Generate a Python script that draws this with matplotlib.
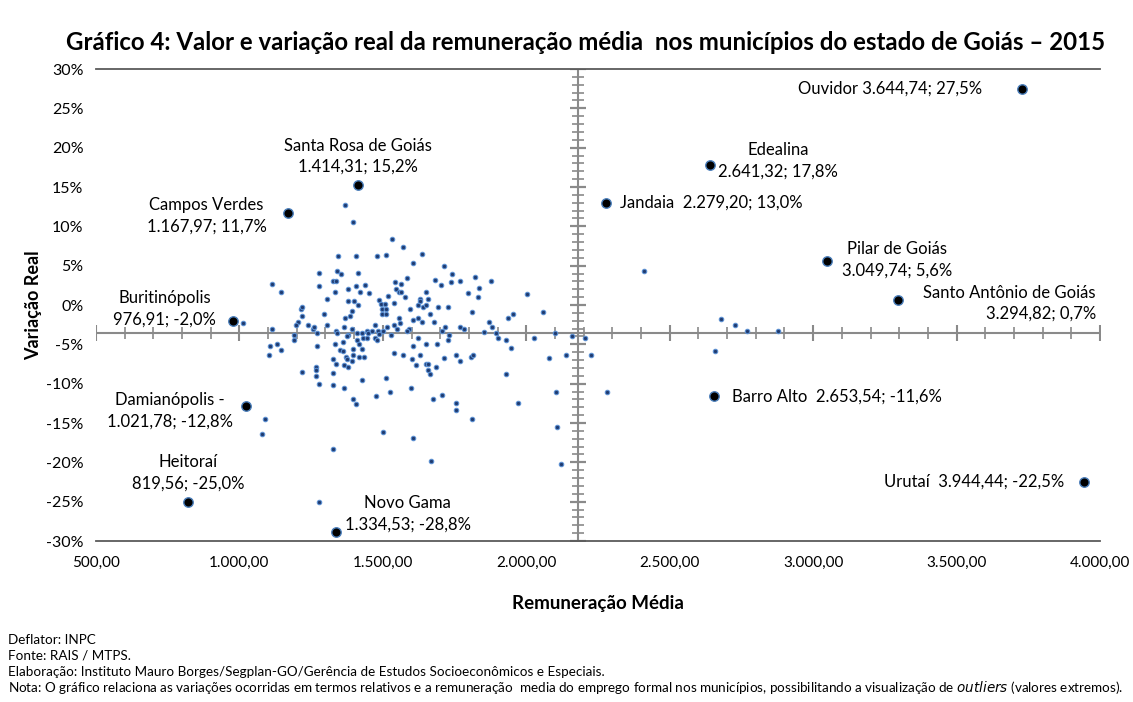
import matplotlib
matplotlib.use('Agg')
import matplotlib.pyplot as plt
import numpy as np

plt.rcParams['font.family'] = ['Lato', 'DejaVu Sans']

# remuneração média (R$) e variação real (%) dos demais municípios
rem = [1011, 1115, 1144, 1112, 1214, 1219, 1219, 1205, 1199, 1238, 1256, 1261, 1271, 1190,
       1190, 1106, 1130, 1144, 1103, 1088, 1078, 1219, 1266, 1266, 1266, 1279, 1328, 1279,
       1369, 1397, 1533, 1570, 1637, 1345, 1406, 1481, 1510, 1604, 1279, 1340, 1355, 1412,
       1327, 1337, 1279, 1332, 1378, 1406, 1439, 1453, 1420, 1542, 1565, 1584, 1547, 1556,
       1565, 1576, 1519, 1487, 1307, 1378, 1401, 1415, 1392, 1387, 1369, 1495, 1507, 1498,
       1510, 1496, 1510, 1539, 1628, 1628, 1656, 1651, 1640, 1651, 1622, 1594, 1665, 1622,
       1637, 1677, 1691, 1683, 1294, 1307, 1365, 1392, 1337, 1341, 1378, 1411, 1426, 1444,
       1449, 1463, 1472, 1484, 1501, 1515, 1538, 1548, 1559, 1528, 1590, 1585, 1557, 1604,
       1375, 1430, 1444, 1472, 1478, 1487, 1623, 1271, 1332, 1360, 1411, 1417, 1397, 1426,
       1349, 1360, 1397, 1373, 1375, 1417, 1435, 1392, 1327, 1337, 1365, 1378, 1604, 1651,
       1688, 1539, 1571, 1628, 1600, 1614, 1651, 1657, 1687, 1656, 1665, 1327, 1327, 1365,
       1426, 1510, 1525, 1476, 1599, 1675, 1397, 1406, 1501, 1604, 1669,
       1712, 1740, 1702, 1736, 1768, 1820, 1876, 1834, 1796, 1830, 2003, 1726, 1810, 2059,
       1937, 1952, 1871, 1882, 1716, 1707, 1768, 1782, 1853, 1895, 1732, 2101, 2159,
       1727, 1900, 1928, 1947, 2027, 2206, 1712, 1754, 1768, 1806, 1815, 1928, 2079, 2140,
       2224, 1707, 1754, 1754, 1810, 1971, 2102, 2280, 2107, 2121,
       2412, 2680, 2727, 2769, 2878, 2657]
var = [-2.3, 2.7, 1.7, -3.0, -0.5, -0.3, -1.4, -2.1, -2.5, -2.6, -3.0, -2.8, -3.5, -3.8,
       -4.5, -5.2, -4.9, -5.7, -6.4, -14.5, -16.4, -8.5, -7.9, -8.2, -9.0, -10.0, -18.3, -25.0,
       12.7, 10.6, 8.4, 7.4, 6.5, 6.2, 6.2, 6.2, 6.4, 5.3, 4.1, 4.3, 3.9, 4.1,
       3.1, 3.1, 2.4, 1.7, 2.0, 2.4, 2.5, 1.5, 1.7, 2.9, 2.7, 3.4, 2.0, 1.7,
       1.7, 1.0, 1.2, 0.7, 0.8, 0.5, 0.5, 0.0, -0.7, -1.4, -1.7, 0.1, 0.1, -0.5,
       -0.5, -1.2, -1.2, 0.2, 0.8, 0.5, 0.8, 1.7, -0.2, 0.0, 0.0, -0.5, -1.2, -1.6,
       -2.1, -2.1, -0.3, 3.2, -1.1, -2.5, -2.8, -3.0, -3.3, -3.6, -3.8, -3.5, -3.5, -3.3,
       -3.6, -3.3, -2.6, -3.3, -3.3, -2.8, -2.6, -3.0, -2.3, -3.8, -3.0, -3.3, -1.7, -1.9,
       -4.0, -4.2, -4.2, -4.2, -4.4, -3.7, -4.2, -5.2, -5.0, -4.7, -4.5, -5.0, -5.6, -5.6,
       -5.7, -5.9, -6.4, -6.6, -6.8, -6.6, -6.6, -7.1, -6.8, -7.5, -7.6, -7.9, -5.2, -5.0,
       -4.9, -6.1, -6.3, -6.3, -6.9, -7.6, -7.5, -7.5, -7.9, -8.3, -8.8, -8.6, -10.2, -10.5,
       -9.5, -9.3, -11.1, -11.6, -10.5, -11.9, -11.9, -12.6, -16.2, -16.9, -19.8,
       5.0, 3.9, 2.5, 2.9, 3.1, 3.6, 3.1, 2.2, 1.5, 1.0, 1.4, -0.3, -0.9, -0.9,
       -1.7, -1.2, -2.2, -2.8, -2.8, -3.3, -2.8, -3.1, -3.4, -3.5, -3.8, -3.5, -4.0,
       -4.5, -4.2, -4.4, -5.4, -4.2, -4.2, -6.7, -6.4, -7.1, -6.6, -6.4, -8.8, -6.7, -6.4,
       -6.4, -11.4, -12.4, -13.3, -14.5, -12.4, -11.1, -11.1, -15.5, -20.2,
       4.3, -1.8, -2.5, -3.3, -3.3, -5.9]

# municípios destacados (outliers): posição
dest_rem = [3727, 2641, 2279, 1414, 1168, 3050, 3295, 977, 1022, 2654, 820, 1335, 3944]
dest_var = [27.5, 17.8, 13.0, 15.2, 11.7, 5.6, 0.7, -2.0, -12.8, -11.6, -25.0, -28.8, -22.5]
# rótulos de dados como impressos
dest_rotulo = ['Ouvidor 3.644,74; 27,5%',
               'Edealina\n2.641,32; 17,8%',
               'Jandaia  2.279,20; 13,0%',
               'Santa Rosa de Goiás\n1.414,31; 15,2%',
               'Campos Verdes\n1.167,97; 11,7%',
               'Pilar de Goiás\n3.049,74; 5,6%',
               'Santo Antônio de Goiás\n3.294,82; 0,7%',
               'Buritinópolis\n976,91; -2,0%',
               'Damianópolis -\n1.021,78; -12,8%',
               'Barro Alto  2.653,54; -11,6%',
               'Heitoraí\n819,56; -25,0%',
               'Novo Gama\n1.334,53; -28,8%',
               'Urutaí  3.944,44; -22,5%']

# cruzamento dos eixos
x_cruz = 2180
y_cruz = -3.5


def br(v, d=2):
    s = f"{v:,.{d}f}"
    return s.replace(',', '#').replace('.', ',').replace('#', '.')


# deslocamento dos rótulos (px) e alinhamento
rot = [(-40, 0, 'right', 'left'),
       (68, 4, 'center', 'center'),
       (14, 0, 'left', 'left'),
       (0, 29, 'center', 'center'),
       (-81, -3, 'center', 'center'),
       (70, 1, 'center', 'center'),
       (198, -4, 'right', 'right'),
       (-68, 12, 'center', 'center'),
       (-76, -5, 'center', 'center'),
       (18, 0, 'left', 'left'),
       (0, 29, 'center', 'center'),
       (72, 18, 'center', 'center'),
       (-20, 0, 'right', 'left')]

fig = plt.figure(figsize=(11.33, 7.02), dpi=100)
ax = fig.add_axes([0.0847, 0.2293, 0.8862, 0.6724])
ax.set_xlim(500, 4000)
ax.set_ylim(-30, 30)

for s in ['left', 'right']:
    ax.spines[s].set_visible(False)
for s in ['top', 'bottom']:
    ax.spines[s].set_color('#5a5a5a')
    ax.spines[s].set_linewidth(1.3)

xt = np.arange(500, 4001, 500)
ax.set_xticks(xt)
ax.set_xticklabels([br(v) for v in xt], fontsize=11)
yt = np.arange(-30, 31, 5)
ax.set_yticks(yt)
ax.set_yticklabels([f"{v}%" for v in yt], fontsize=11.5)
ax.tick_params(axis='both', length=0)
ax.tick_params(axis='x', pad=11)
ax.tick_params(axis='y', pad=9)

# eixos centrais com marcas
cinza = '#8a8a8a'
ax.axhline(y_cruz, color=cinza, lw=1.5, zorder=1)
ax.axvline(x_cruz, color=cinza, lw=1.5, zorder=1)
ym = np.arange(-30, 31, 1)
ax.plot(np.full(len(ym), x_cruz), ym, ls='none', marker='_', ms=8, mew=1.2, color=cinza, zorder=1)
ax.plot(np.full(len(yt), x_cruz), yt, ls='none', marker='_', ms=12, mew=1.6, color=cinza, zorder=1)
xm = np.arange(500, 4001, 100)
ax.plot(xm, np.full(len(xm), y_cruz), ls='none', marker='|', ms=9, mew=1.2, color=cinza, zorder=1)
ax.plot(xt, np.full(len(xt), y_cruz), ls='none', marker='|', ms=11, mew=1.5, color=cinza, zorder=1)

ax.plot(rem, var, ls='none', marker='o', ms=3.2, mfc='#1f3b70', mec='#5b8fd1', mew=0.8, zorder=3)
ax.plot(dest_rem, dest_var, ls='none', marker='o', ms=6.8, mfc='black', mec='#4a7ebb', mew=1.0, zorder=4)

for i, txt in enumerate(dest_rotulo):
    dx, dy, ha, ma = rot[i]
    ax.annotate(txt, (dest_rem[i], dest_var[i]), xytext=(dx, dy), textcoords='offset pixels',
                ha=ha, va='center', multialignment=ma, fontsize=12, linespacing=1.4)

ax.set_xlabel('Remuneração Média', fontsize=13.5, fontweight='bold', labelpad=18)
ax.set_ylabel('Variação Real', fontsize=13, fontweight='bold', labelpad=3)

fig.text(0.517, 1 - 43 / 702, 'Gráfico 4: Valor e variação real da remuneração média  nos municípios do estado de Goiás – 2015',
         ha='center', va='center', fontsize=17.3, fontweight='bold')

notas = ['Deflator: INPC', 'Fonte: RAIS / MTPS.',
         'Elaboração: Instituto Mauro Borges/Segplan-GO/Gerência de Estudos Socioeconômicos e Especiais.',
         'Nota: O gráfico relaciona as variações ocorridas em termos relativos e a remuneração  media do emprego formal nos municípios, possibilitando a visualização de $\\it{outliers}$ (valores extremos).']
for k, n in enumerate(notas):
    fig.text(8 / 1133, 1 - (640 + 16 * k) / 702, n, ha='left', va='center', fontsize=9.75)

fig.savefig('out.png', dpi=100)
